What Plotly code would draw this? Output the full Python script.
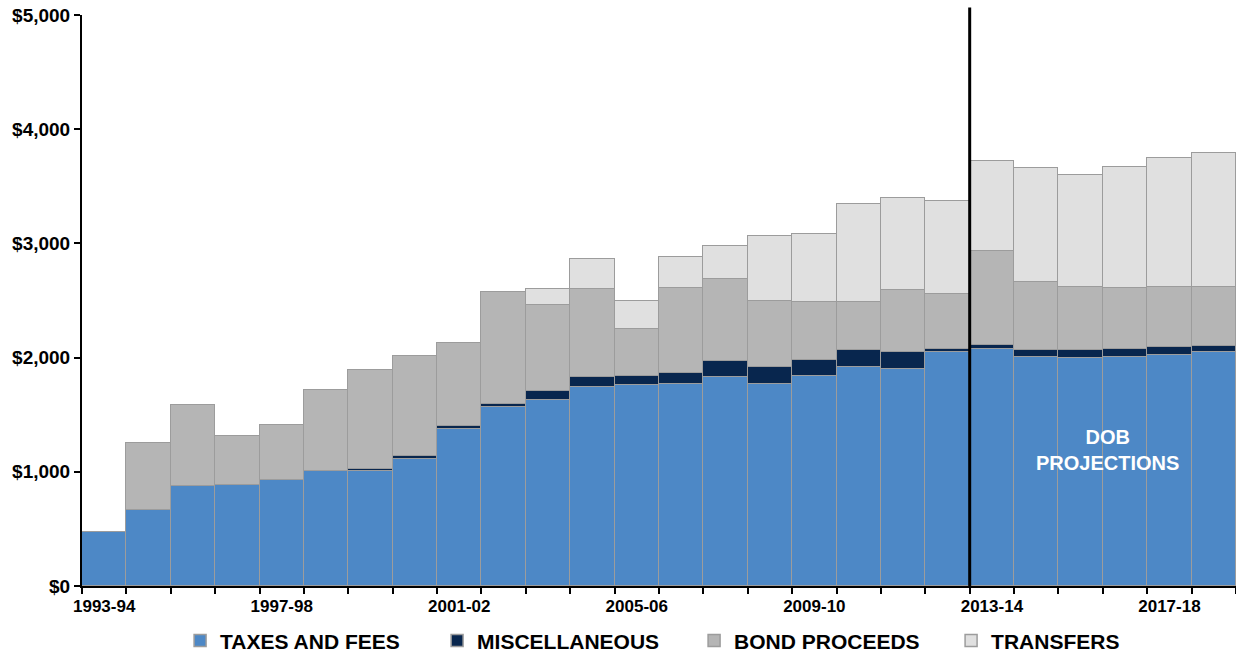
import plotly.graph_objects as go

# Fiscal years shown on the category axis
years = [
    "1993-94", "1994-95", "1995-96", "1996-97", "1997-98", "1998-99", "1999-00",
    "2000-01", "2001-02", "2002-03", "2003-04", "2004-05", "2005-06", "2006-07",
    "2007-08", "2008-09", "2009-10", "2010-11", "2011-12", "2012-13", "2013-14",
    "2014-15", "2015-16", "2016-17", "2017-18", "2018-19",
]

# Revenue components ($ millions)
taxes_and_fees = [470, 668, 878, 886, 927, 1003, 1003, 1114, 1376, 1569, 1633, 1744, 1759,
                  1770, 1832, 1767, 1843, 1918, 1898, 2047, 2071, 2008, 1995, 2006, 2020, 2046]
miscellaneous = [0, 0, 0, 0, 0, 0, 21, 23, 24, 23, 73, 88, 84,
                 96, 137, 152, 140, 148, 155, 26, 43, 60, 73, 72, 70, 58]
bond_proceeds = [0, 581, 709, 426, 484, 709, 866, 875, 726, 983, 752, 766, 405,
                 744, 717, 577, 502, 418, 543, 488, 823, 594, 548, 532, 532, 518]
transfers = [0, 0, 0, 0, 0, 0, 0, 0, 0, 0, 140, 263, 248,
             275, 290, 569, 600, 864, 801, 813, 784, 995, 980, 1062, 1123, 1172]

# Every fourth year gets a label
tick_text = [y if i % 4 == 0 else "" for i, y in enumerate(years)]

# Dollar axis
y_ticks = [0, 1000, 2000, 3000, 4000, 5000]
y_tick_text = ["$0", "$1,000", "$2,000", "$3,000", "$4,000", "$5,000"]

series = [
    ("TAXES AND FEES", taxes_and_fees, "#4D88C6"),
    ("MISCELLANEOUS", miscellaneous, "#08264E"),
    ("BOND PROCEEDS", bond_proceeds, "#B5B5B5"),
    ("TRANSFERS", transfers, "#E0E0E0"),
]

FONT = "Liberation Sans, Arial, sans-serif"

fig = go.Figure()
for name, vals, color in series:
    fig.add_trace(go.Bar(
        x=years, y=vals, name=name,
        marker=dict(color=color, line=dict(color="#9C9C9C", width=1.5)),
    ))

# Divider between actuals and projections
fig.add_shape(type="line", xref="x", yref="paper",
              x0=19.5, x1=19.5, y0=0, y1=1.013,
              line=dict(color="black", width=3))

fig.add_annotation(x=22.6, y=1190, xref="x", yref="y",
                   text="DOB<br>PROJECTIONS", showarrow=False,
                   font=dict(family=FONT, size=20, color="white", weight="bold"),
                   align="center")

fig.update_layout(
    barmode="stack", bargap=0,
    width=1236, height=654,
    margin=dict(l=82, r=0, t=15, b=68),
    paper_bgcolor="white", plot_bgcolor="white",
    font=dict(family=FONT, color="black"),
    showlegend=True,
    legend=dict(orientation="h", x=0.085, xanchor="left",
                yref="container", y=0.02, yanchor="middle",
                font=dict(family=FONT, size=21, color="black", weight="bold"),
                traceorder="normal", entrywidth=212, entrywidthmode="pixels",
                itemclick=False, itemwidth=30),
    xaxis=dict(
        type="category", tickmode="array", tickvals=years, ticktext=tick_text,
        tickson="boundaries", ticks="outside", ticklen=6, tickwidth=1.5, tickcolor="black",
        tickangle=0, ticklabelstandoff=4,
        showline=True, linecolor="black", linewidth=2, showgrid=False,
        tickfont=dict(family=FONT, size=17, color="black", weight="bold"),
        range=[-0.5, 25.5], automargin=False,
    ),
    yaxis=dict(
        range=[0, 5000], tickmode="array", tickvals=y_ticks, ticktext=y_tick_text,
        ticks="outside", ticklen=6, tickwidth=1.5,
        tickcolor="black", showline=True, linecolor="black", linewidth=2,
        showgrid=False, zeroline=False,
        tickfont=dict(family=FONT, size=19, color="black", weight="bold"),
        automargin=False,
    ),
)

fig.write_html("out.html")
